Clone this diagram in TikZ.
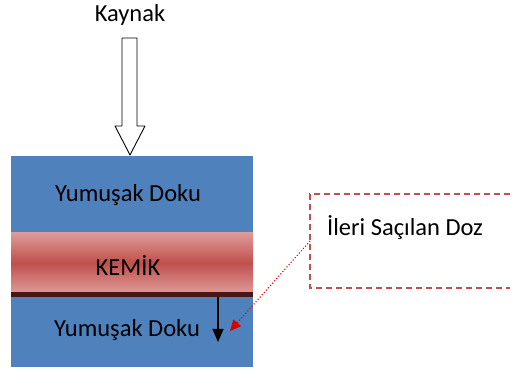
\documentclass[tikz,border=0pt]{standalone}
\usepackage{fontspec}
\setmainfont{Carlito}
\usetikzlibrary{arrows.meta}
\definecolor{tissue}{HTML}{4F81BD}
\definecolor{bone}{HTML}{C0504D}
\definecolor{bonelight}{HTML}{DE9A98}
\definecolor{bonedark}{HTML}{4A1515}
\tikzset{
  lbl/.style={font=\fontsize{24.5}{28}\selectfont, text=black, inner sep=0pt},
}
\begin{document}
\begin{tikzpicture}[x=1pt,y=-1pt]
\useasboundingbox (0,0) rectangle (512,371);
% tissue block
\fill[tissue] (11,156) rectangle (253,367);
% bone band
\shade[top color=bonelight, bottom color=bonelight, middle color=bone] (11,233) rectangle (253,293);
\fill[bonedark] (11,292) rectangle (253,297);
% texts
\node[lbl] (y1) at (128,195) {Yumuşak Doku};
\node[lbl] (kemik) at (128,266) {KEMİK};
\node[lbl] (y2) at (127,330) {Yumuşak Doku};
\node[lbl] (kaynak) at (130,15) {Kaynak};
% hollow source arrow
\draw[line width=0.9pt, fill=white, line join=round]
  (122,38) -- (137,38) -- (137,126) -- (145,126) -- (130,155) -- (115,126) -- (122,126) -- cycle;
\coordinate (src) at (130,155);
% black scatter arrow
\coordinate (bstart) at (218,297);
\coordinate (bend) at (218,342);
\draw[line width=1.2pt, -{Triangle[length=13pt,width=11pt]}] (bstart) -- (bend);
% dashed callout box
\draw[bone, line width=1.4pt, dash pattern=on 6pt off 4pt] (510,194) -- (310,194) -- (310,288) -- (510,288);
\node[lbl, anchor=west] (ileri) at (327,228) {İleri Saçılan Doz};
\coordinate (cl) at (310,241);
\coordinate (ctip) at (230,331);
\draw[red!85!black, line width=1.1pt, dotted, -{Triangle[length=11pt,width=10pt]}] (cl) -- (ctip);
\end{tikzpicture}
\end{document}
